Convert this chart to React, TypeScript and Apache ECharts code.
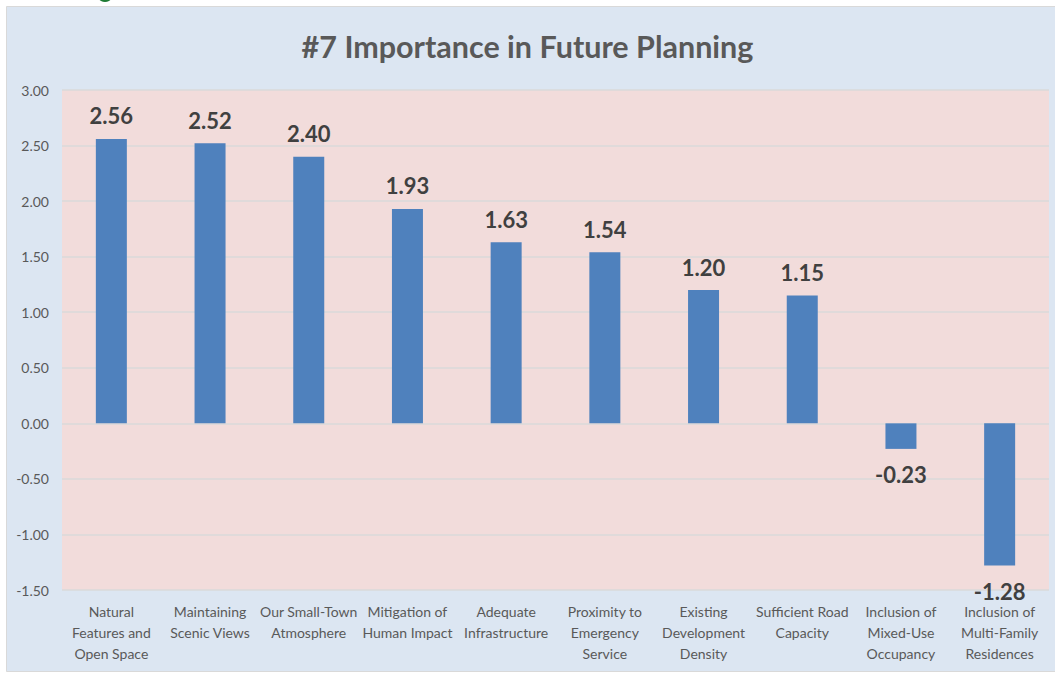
import React, { useEffect, useRef } from "react";
import * as echarts from "echarts";

const categories = [
  "Natural\nFeatures and\nOpen Space",
  "Maintaining\nScenic Views",
  "Our Small-Town\nAtmosphere",
  "Mitigation of\nHuman Impact",
  "Adequate\nInfrastructure",
  "Proximity to\nEmergency\nService",
  "Existing\nDevelopment\nDensity",
  "Sufficient Road\nCapacity",
  "Inclusion of\nMixed-Use\nOccupancy",
  "Inclusion of\nMulti-Family\nResidences",
];
const values = [2.56, 2.52, 2.4, 1.93, 1.63, 1.54, 1.2, 1.15, -0.23, -1.28];
const titleText = "#7 Importance in Future Planning";

export default function App() {
  const ref = useRef<HTMLDivElement>(null);
  useEffect(() => {
    if (!ref.current) return;
    const chart = echarts.init(ref.current, null, { renderer: "svg" });
    const font = "Lato, 'Open Sans', sans-serif";
    chart.setOption({
      animation: false,
      backgroundColor: "#ffffff",
      textStyle: { fontFamily: font },
      graphic: [
        {
          type: "circle",
          shape: { cx: 105, cy: -6, r: 8 },
          style: { fill: "#1e7b34" },
          z: -10,
        },
        {
          type: "rect",
          shape: { x: 6.5, y: 6.5, width: 1060, height: 665 },
          style: { fill: "#dce6f2", stroke: "#d9d9d9", lineWidth: 1 },
          z: -10,
          silent: true,
        },
      ],
      title: {
        text: titleText,
        left: "center",
        top: 25,
        textStyle: {
          fontFamily: font,
          fontSize: 30.5,
          fontWeight: "bold",
          color: "#595959",
        },
      },
      grid: {
        left: 62,
        right: 6,
        top: 90,
        bottom: 83,
        show: true,
        backgroundColor: "#f2dcdb",
        borderWidth: 0,
      },
      xAxis: {
        type: "category",
        data: categories,
        axisLine: { show: false, onZero: false },
        axisTick: { show: false },
        axisLabel: {
          interval: 0,
          color: "#595959",
          fontFamily: font,
          fontSize: 14,
          lineHeight: 21,
          margin: 11,
        },
      },
      yAxis: {
        type: "value",
        min: -1.5,
        max: 3,
        interval: 0.5,
        axisLine: { show: false },
        axisTick: { show: false },
        splitLine: { lineStyle: { color: "#dadada", width: 1.5 } },
        axisLabel: {
          color: "#595959",
          fontFamily: font,
          fontSize: 14,
          margin: 13,
          formatter: (v: number) => v.toFixed(2),
        },
      },
      series: [
        {
          type: "bar",
          data: values.map((v) => ({
            value: v,
            label:
              v >= 0
                ? { position: "top", distance: 12 }
                : { position: "bottom", distance: 15 },
          })),
          barWidth: 31,
          itemStyle: { color: "#4f81bd" },
          label: {
            show: true,
            distance: 12,
            fontFamily: font,
            fontSize: 22,
            fontWeight: "bold",
            color: "#404040",
            formatter: (p: any) => Number(p.value).toFixed(2),
          },
        },
      ],
    });
    return () => chart.dispose();
  }, []);
  return (
    <div
      ref={ref}
      style={{ position: "absolute", left: 0, top: 0, width: 1055, height: 673 }}
    />
  );
}
